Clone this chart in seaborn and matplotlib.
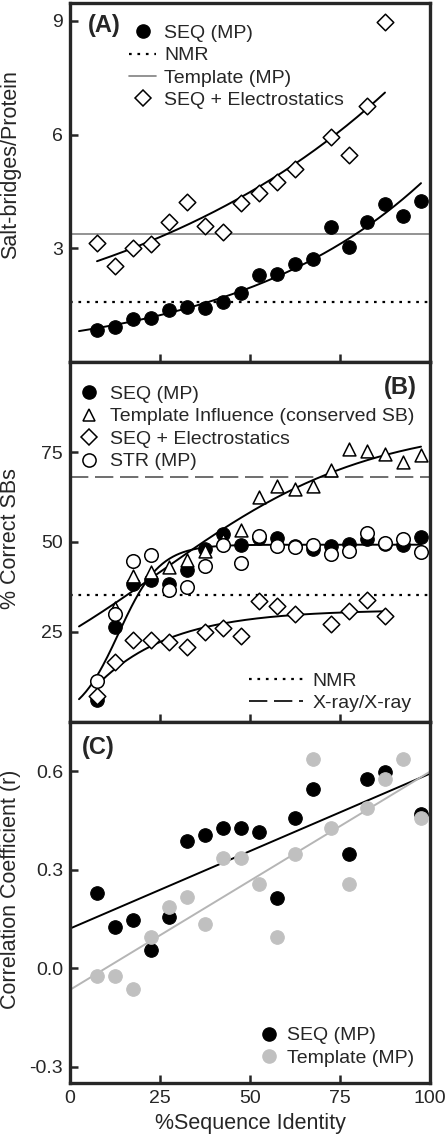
import numpy as np
import matplotlib.pyplot as plt
import seaborn as sns
from matplotlib.lines import Line2D

# ---- data ----
identity = [7.5, 12.5, 17.5, 22.5, 27.5, 32.5, 37.5, 42.5, 47.5, 52.5,
            57.5, 62.5, 67.5, 72.5, 77.5, 82.5, 87.5, 92.5, 97.5]

# (A) salt-bridges per protein
a_seq = [0.85, 0.93, 1.13, 1.17, 1.37, 1.44, 1.42, 1.59, 1.81, 2.30,
         2.32, 2.59, 2.71, 3.57, 3.04, 3.70, 4.17, 3.85, 4.25]
a_elec_x = [7.5, 12.5, 17.5, 22.5, 27.5, 32.5, 37.5, 42.5, 47.5, 52.5,
            57.5, 62.5, 72.5, 77.5, 82.5, 87.5]
a_elec = [3.13, 2.54, 3.02, 3.10, 3.70, 4.23, 3.59, 3.42, 4.19, 4.47,
          4.76, 5.08, 5.93, 5.45, 6.76, 8.98]
a_nmr = 1.58
a_template = 3.38

# (B) % correct salt-bridges
b_seq = [6.2, 26.3, 38.3, 39.5, 38.3, 42.2, 48.0, 52.2, 49.3, 51.0,
         51.1, 49.0, 48.1, 48.8, 49.4, 50.8, 49.5, 49.2, 51.5]
b_templ_x = identity[1:]
b_templ = [31.8, 40.6, 41.6, 43.0, 45.1, 47.6, 50.5, 53.4, 62.6,
           65.6, 64.7, 65.5, 70.1, 75.8, 75.2, 74.4, 72.1, 74.2]
b_elec_x = a_elec_x
b_elec = [7.2, 16.6, 22.8, 22.8, 22.3, 20.9, 24.9, 26.0, 23.8, 33.5,
          32.1, 30.0, 27.3, 30.9, 34.0, 29.4]
b_str = [11.5, 30.0, 44.8, 46.5, 36.8, 37.4, 43.3, 49.2, 44.2, 51.8,
         48.8, 48.5, 49.2, 46.7, 47.6, 52.5, 49.7, 50.8, 47.1]
b_nmr = 35.3
b_xray = 68.1

# (C) correlation coefficient
c_seq_x = [7.5, 12.5, 17.5, 22.5, 27.5, 32.5, 37.5, 42.5, 47.5, 52.5,
           57.5, 62.5, 67.5, 77.5, 82.5, 87.5, 97.5]
c_seq = [0.228, 0.126, 0.146, 0.054, 0.156, 0.386, 0.406, 0.427, 0.427, 0.416,
         0.215, 0.457, 0.546, 0.347, 0.577, 0.597, 0.470]
c_templ = [-0.024, -0.024, -0.065, 0.095, 0.187, 0.217, 0.136, 0.337, 0.337, 0.256,
           0.095, 0.347, 0.638, 0.427, 0.256, 0.488, 0.577, 0.638, 0.457]


# ---- simple least-squares fits (numpy only) ----
def fit_growth(x, y):
    # y = a*exp(r*x), fitted on log(y)
    r, lna = np.polyfit(x, np.log(y), 1)
    return lambda t: np.exp(lna + r * t)


def fit_rise(x, y):
    # y = a + b*exp(r*x), r picked on a grid
    x, y = np.asarray(x, float), np.asarray(y, float)
    best = None
    for r in np.linspace(-0.2, -0.002, 400):
        A = np.column_stack([np.ones_like(x), np.exp(r * x)])
        coef = np.linalg.lstsq(A, y, rcond=None)[0]
        err = np.sum((A @ coef - y) ** 2)
        if best is None or err < best[0]:
            best = (err, r, coef)
    _, r, coef = best
    return lambda t: coef[0] + coef[1] * np.exp(r * t)


def fit_sigmoid(x, y):
    # 3-parameter sigmoid: y = a / (1 + exp(-(x - x0)/w))
    x, y = np.asarray(x, float), np.asarray(y, float)
    best = None
    for x0 in np.linspace(-10, 60, 281):
        for w in np.linspace(0.5, 40, 159):
            s = 1 / (1 + np.exp(-(x - x0) / w))
            a = np.dot(s, y) / np.dot(s, s)
            err = np.sum((a * s - y) ** 2)
            if best is None or err < best[0]:
                best = (err, x0, w, a)
    _, x0, w, a = best
    return lambda t: a / (1 + np.exp(-(t - x0) / w))


sns.set_style('ticks')
plt.rcParams['font.family'] = ['Liberation Sans', 'DejaVu Sans']

fig = plt.figure(figsize=(4.45, 11.47), dpi=100)
L, W = 70 / 445, 360 / 445
H = 1147
axA = fig.add_axes([L, 1 - 362 / H, W, 359 / H])
axB = fig.add_axes([L, 1 - 722 / H, W, 360 / H])
axC = fig.add_axes([L, 1 - 1083 / H, W, 361 / H])

ms = 95
dotted = (0, (1.2, 2.6))
dashed = (0, (11, 4))
fit_kw = dict(color='black', lw=1.4, zorder=2)
t_full = np.linspace(2.5, 97.5, 300)
t_e = np.linspace(7.5, 87.5, 300)

# ---- (A) ----
ax = axA
ax.axhline(a_nmr, color='black', lw=1.6, ls=dotted, zorder=1)
ax.axhline(a_template, color='#808080', lw=1.2, zorder=1)
ax.plot(t_full, fit_growth(identity, a_seq)(t_full), **fit_kw)
ax.plot(t_e, fit_growth(a_elec_x, a_elec)(t_e), **fit_kw)
sns.scatterplot(x=identity, y=a_seq, ax=ax, color='black', s=ms, marker='o',
                edgecolor='black', zorder=3)
sns.scatterplot(x=a_elec_x, y=a_elec, ax=ax, color='white', s=ms * 0.75, marker='D',
                edgecolor='black', linewidth=1.1, zorder=3)
ax.set_ylim(0, 9.47)
ax.set_yticks([3, 6, 9])
ax.set_ylabel('Salt-bridges/Protein', fontsize=15.5)
ax.yaxis.set_label_coords(-0.135, 0.55)
ax.text(0.05, 0.936, '(A)', transform=ax.transAxes, fontsize=17, fontweight='bold',
        va='center', ha='left')
hA = [Line2D([], [], color='black', marker='o', ls='none', ms=9.5),
      Line2D([], [], color='black', ls=dotted, lw=1.6),
      Line2D([], [], color='#808080', lw=1.2),
      Line2D([], [], color='black', marker='D', mfc='white', ls='none', ms=8, mew=1.1)]
ax.legend(hA, ['SEQ (MP)', 'NMR', 'Template (MP)', 'SEQ + Electrostatics'],
          loc='upper left', bbox_to_anchor=(0.165, 0.94), frameon=False, fontsize=14,
          borderpad=0, borderaxespad=0, handlelength=1.35, handletextpad=0.45,
          labelspacing=0.24)

# ---- (B) ----
ax = axB
ax.axhline(b_nmr, color='black', lw=1.6, ls=dotted, zorder=1)
ax.axhline(b_xray, color='#555555', lw=1.2, ls=dashed, zorder=1)
ax.plot(t_full, fit_sigmoid(b_templ_x, b_templ)(t_full), **fit_kw)
ax.plot(t_full, fit_sigmoid(identity, b_seq)(t_full), **fit_kw)
ax.plot(t_e, fit_rise(b_elec_x, b_elec)(t_e), **fit_kw)
sns.scatterplot(x=identity, y=b_seq, ax=ax, color='black', s=ms, marker='o',
                edgecolor='black', zorder=3)
sns.scatterplot(x=b_templ_x, y=b_templ, ax=ax, color='white', s=ms * 0.9, marker='^',
                edgecolor='black', linewidth=1.1, zorder=3)
sns.scatterplot(x=b_elec_x, y=b_elec, ax=ax, color='white', s=ms * 0.75, marker='D',
                edgecolor='black', linewidth=1.1, zorder=3)
sns.scatterplot(x=identity, y=b_str, ax=ax, color='white', s=ms, marker='o',
                edgecolor='black', linewidth=1.1, zorder=3)
ax.set_ylim(0, 100)
ax.set_yticks([25, 50, 75])
ax.set_ylabel('% Correct SBs', fontsize=15.5)
ax.yaxis.set_label_coords(-0.135, 0.51)
ax.text(0.964, 0.93, '(B)', transform=ax.transAxes, fontsize=17, fontweight='bold',
        va='center', ha='right')
hB = [Line2D([], [], color='black', marker='o', ls='none', ms=9.5),
      Line2D([], [], color='black', marker='^', mfc='white', ls='none', ms=9, mew=1.1),
      Line2D([], [], color='black', marker='D', mfc='white', ls='none', ms=8, mew=1.1),
      Line2D([], [], color='black', marker='o', mfc='white', ls='none', ms=9.5, mew=1.1)]
legB = ax.legend(hB, ['SEQ (MP)', 'Template Influence (conserved SB)',
                      'SEQ + Electrostatics', 'STR (MP)'],
                 loc='upper left', bbox_to_anchor=(0.025, 0.935), frameon=False, fontsize=14,
                 borderpad=0, borderaxespad=0, handlelength=1.0, handletextpad=0.6,
                 labelspacing=0.25)
ax.add_artist(legB)
hB2 = [Line2D([], [], color='black', ls=dotted, lw=1.6),
       Line2D([], [], color='black', ls=dashed, lw=1.2)]
ax.legend(hB2, ['NMR', 'X-ray/X-ray'], loc='lower right', bbox_to_anchor=(0.95, 0.028),
          frameon=False, fontsize=14, borderpad=0, borderaxespad=0, handlelength=2.8,
          handletextpad=0.5, labelspacing=0.24)

# ---- (C) ----
ax = axC
t_c = np.linspace(0, 100, 50)
p_seq = np.polyfit(c_seq_x, c_seq, 1)
p_tpl = np.polyfit(identity, c_templ, 1)
ax.plot(t_c, np.polyval(p_seq, t_c), **fit_kw)
ax.plot(t_c, np.polyval(p_tpl, t_c), color='#b5b5b5', lw=1.4, zorder=2)
sns.scatterplot(x=c_seq_x, y=c_seq, ax=ax, color='black', s=ms, marker='o',
                edgecolor='black', zorder=3)
sns.scatterplot(x=identity, y=c_templ, ax=ax, color='#c0c0c0', s=ms, marker='o',
                edgecolor='#c0c0c0', zorder=3)
ax.set_ylim(-0.35, 0.75)
ax.set_yticks([-0.3, 0.0, 0.3, 0.6])
ax.set_yticklabels(['-0.3', '0.0', '0.3', '0.6'])
ax.set_ylabel('Correlation Coefficient (r)', fontsize=15.5)
ax.yaxis.set_label_coords(-0.135, 0.537)
ax.set_xlabel('%Sequence Identity', fontsize=15.5)
ax.text(0.033, 0.93, '(C)', transform=ax.transAxes, fontsize=17, fontweight='bold',
        va='center', ha='left')
hC = [Line2D([], [], color='black', marker='o', ls='none', ms=9.5),
      Line2D([], [], color='#c0c0c0', marker='o', ls='none', ms=9.5)]
ax.legend(hC, ['SEQ (MP)', 'Template (MP)'], loc='lower right',
          bbox_to_anchor=(0.955, 0.045), frameon=False, fontsize=14, borderpad=0,
          borderaxespad=0, handlelength=0.8, handletextpad=0.5, labelspacing=0.24)

for ax in (axA, axB, axC):
    ax.set_xlim(0, 100)
    ax.set_xticks([0, 25, 50, 75, 100])
    ax.tick_params(direction='in', length=6, width=1.8, labelsize=14, pad=5)
    for s in ax.spines.values():
        s.set_linewidth(2.4)
        s.set_visible(True)
for ax in (axA, axB):
    ax.tick_params(axis='x', labelbottom=False)
    ax.set_xlabel('')

fig.savefig('out.png', dpi=100)
